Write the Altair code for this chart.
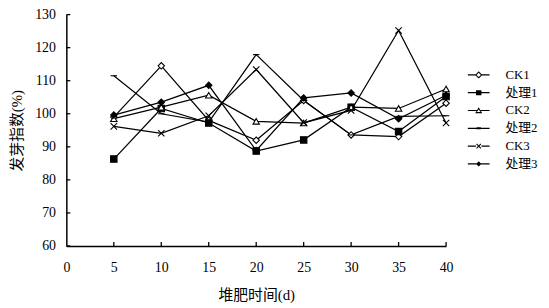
import altair as alt
import pandas as pd

days = [5, 10, 15, 20, 25, 30, 35, 40]
series = ["CK1", "处理1", "CK2", "处理2", "CK3", "处理3"]
ck1 = [99.0, 114.5, 98.0, 92.0, 104.0, 93.6, 93.1, 103.2]
t1 = [86.3, 101.6, 97.2, 88.7, 92.1, 102.0, 94.6, 105.2]
ck2 = [98.5, 102.0, 105.6, 97.7, 97.2, 102.0, 101.6, 107.5]
t2 = [111.5, 100.0, 97.5, 117.9, 104.0, 93.6, 99.2, 99.4]
ck3 = [96.2, 94.1, 99.4, 113.4, 97.3, 101.0, 125.2, 97.2]
t3 = [99.6, 103.5, 108.6, 88.9, 104.8, 106.3, 98.5, 105.6]
x_ticks = [0, 5, 10, 15, 20, 25, 30, 35, 40]
y_ticks = [60, 70, 80, 90, 100, 110, 120, 130]

values = [ck1, t1, ck2, t2, ck3, t3]
rows = []
for name, vals in zip(series, values):
    for d, v in zip(days, vals):
        rows.append({"d": d, "s": name, "v": v})
df = pd.DataFrame(rows)

NUMFONT = "Liberation Serif"
MIXFONT = "Liberation Serif, Noto Sans CJK SC"
W, H = 384, 234

pt_paths = [
    "diamond",
    "square",
    "triangle-up",
    "M-1,0H1",
    "M-1,-1L1,1M-1,1L1,-1",
    "diamond",
]

# legend symbols drawn as filled shapes only: line (thin rect) + marker;
# open markers as rings (outer clockwise, inner counter-clockwise)
LINE = "M-1,-0.055H1V0.055H-1Z"
def gapline(g):
    return f"M-1,-0.055H-{g}V0.055H-1ZM{g},-0.055H1V0.055H{g}Z"
leg_paths = [
    gapline(0.3) + "M0,-0.34L0.34,0L0,0.34L-0.34,0ZM0,-0.2L-0.2,0L0,0.2L0.2,0Z",
    LINE + "M-0.25,-0.23H0.25V0.23H-0.25Z",
    gapline(0.18) + "M0,-0.3L0.32,0.24L-0.32,0.24ZM0,-0.1L-0.17,0.14L0.17,0.14Z",
    LINE + "M-0.2,-0.09H0.2V0.09H-0.2Z",
    gapline(0.25) + "M-0.165,-0.235L0.235,0.165L0.165,0.235L-0.235,-0.165Z"
                    "M0.165,-0.235L0.235,-0.165L-0.165,0.235L-0.235,0.165Z",
    LINE + "M0,-0.24L0.24,0L0,0.24L-0.24,0Z",
]

xscale = alt.Scale(domain=[0, 40], nice=False)
yscale = alt.Scale(domain=[60, 130], nice=False, zero=False)

xaxis = alt.Axis(values=x_ticks, tickSize=0, labelPadding=15, grid=False,
                 domainColor="black", domainWidth=1.5, labelColor="black",
                 labelFont=NUMFONT, labelFontSize=14, title="堆肥时间(d)",
                 titleFont=MIXFONT, titleFontSize=15, titleFontWeight="normal",
                 titleColor="black", titlePadding=13, labelFlush=False)
yaxis = alt.Axis(values=y_ticks, tickSize=0, labelPadding=11, grid=False,
                 domainColor="black", domainWidth=1.5, labelColor="black",
                 labelFont=NUMFONT, labelFontSize=14, title="发芽指数(%)",
                 titleFont=MIXFONT, titleFontSize=15, titleFontWeight="normal",
                 titleColor="black", titlePadding=10)

X = alt.X("d:Q", scale=xscale, axis=xaxis)
Y = alt.Y("v:Q", scale=yscale, axis=yaxis)

base = alt.Chart(df)

lines = base.mark_line(color="black", strokeWidth=1.25).encode(x=X, y=Y, detail="s:N")

points = base.mark_point(stroke="black", strokeWidth=1.1, size=42, opacity=1).encode(
    x=X, y=Y,
    shape=alt.Shape("s:N", scale=alt.Scale(domain=series, range=pt_paths), legend=None),
    fill=alt.condition("datum.s == 'CK1' || datum.s == 'CK2'", alt.value("white"), alt.value("black")),
)

leg = alt.Legend(title=None, orient="none", legendX=406, legendY=50, padding=0,
                 symbolSize=484, symbolStrokeWidth=0, symbolFillColor="black",
                 symbolOpacity=1, labelFont=MIXFONT, labelFontSize=13, labelColor="black",
                 labelOffset=16, rowPadding=-1)

legend_layer = base.mark_point(filled=True, color="black", size=484, opacity=0).encode(
    x=X, y=Y,
    shape=alt.Shape("s:N", scale=alt.Scale(domain=series, range=leg_paths), legend=leg),
)

yt = pd.DataFrame({"v": y_ticks})
xt = pd.DataFrame({"d": x_ticks[1:]})
ytick_layer = alt.Chart(yt).mark_rule(color="black", strokeWidth=1.3).encode(
    y=Y, x=alt.value(0), x2=alt.value(4))
xtick_layer = alt.Chart(xt).mark_rule(color="black", strokeWidth=1.3).encode(
    x=X, y=alt.value(H), y2=alt.value(H - 4))

chart = alt.layer(lines, points, legend_layer, ytick_layer, xtick_layer).resolve_scale(
    shape="independent"
).properties(
    width=W, height=H,
    padding={"left": 59, "top": 5, "right": 96, "bottom": 58},
    autosize=alt.AutoSizeParams(type="none"),
    background="white",
).configure_view(stroke=None)

chart.save("out.html", embed_options={"renderer": "svg", "actions": False})
